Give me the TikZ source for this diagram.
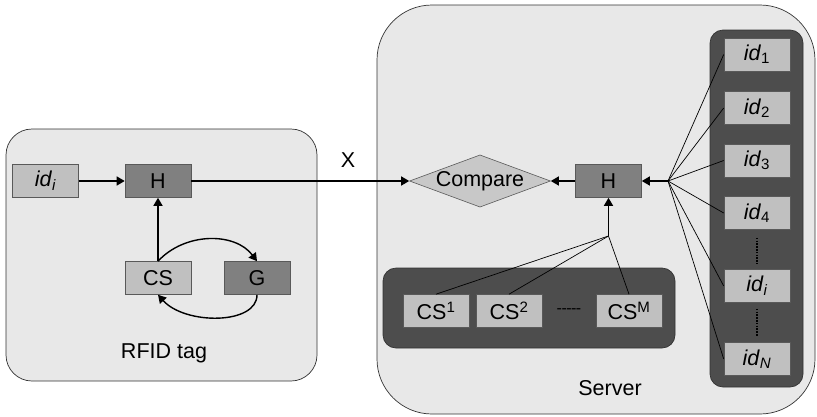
\documentclass[tikz,border=0pt]{standalone}
\usepackage{fontspec}
\setmainfont{Liberation Sans}
\usetikzlibrary{shapes.geometric,arrows.meta}
\definecolor{bgpanel}{HTML}{E8E8E8}
\definecolor{lightbox}{HTML}{C0C0C0}
\definecolor{darkbox}{HTML}{808080}
\definecolor{groupfill}{HTML}{4D4D4D}
\definecolor{cmpfill}{HTML}{C8C8C8}
\tikzset{
  panel/.style={draw=black!80, line width=0.7pt, fill=bgpanel, rounded corners=26pt, inner sep=0},
  group/.style={draw=black!80, line width=0.7pt, fill=groupfill, rounded corners=13pt, inner sep=0},
  lbox/.style={draw=black!65, line width=0.6pt, fill=lightbox, minimum width=66pt, minimum height=33pt, inner sep=0},
  dbox/.style={draw=black!65, line width=0.6pt, fill=darkbox, minimum width=66pt, minimum height=33pt, inner sep=0},
  arr/.style={line width=1.4pt, -{Triangle[length=8pt,width=9pt]}},
  thin/.style={line width=0.7pt},
  dotline/.style={line width=1.2pt, dash pattern=on 1.6pt off 1.2pt}
}
\begin{document}
\begin{tikzpicture}[x=1pt,y=-1pt, every node/.style={font=\fontsize{21.5}{25}\selectfont}]
\useasboundingbox (0,0) rectangle (817,416);
% panels
\node[panel, minimum width=311pt, minimum height=252pt] (tag) at (161.5,255) {};
\node[panel, rounded corners=55pt, minimum width=438pt, minimum height=409pt] (server) at (596,209.5) {};
\node[group, minimum width=93pt, minimum height=357pt] (idcol) at (756.5,208.5) {};
\node[group, minimum width=292pt, minimum height=80pt] (csgrp) at (529,308) {};
% tag nodes
\node[lbox] (idi) at (45.5,181) {\textit{id}\textsubscript{\textit{i}}};
\node[dbox] (H1) at (158,181) {H};
\node[lbox] (CS) at (158,278) {CS};
\node[dbox] (G) at (257,278) {G};
\node (tagl) at (164,353) {RFID tag};
% server nodes
\node[diamond, draw=black!65, line width=0.6pt, fill=cmpfill, minimum width=140pt, minimum height=52pt, aspect=2.7, inner sep=0] (cmp) at (480,181) {Compare};
\node[dbox] (H2) at (608.5,181) {H};
\node[lbox] (id1) at (757,54.5) {\textit{id}\textsubscript{1}};
\node[lbox] (id2) at (757,108) {\textit{id}\textsubscript{2}};
\node[lbox] (id3) at (757,160.5) {\textit{id}\textsubscript{3}};
\node[lbox] (id4) at (757,213) {\textit{id}\textsubscript{4}};
\node[lbox] (idI) at (757,286) {\textit{id}\textsubscript{\textit{i}}};
\node[lbox] (idN) at (757,359) {\textit{id}\textsubscript{\textit{N}}};
\node[lbox] (cs1) at (436,311) {CS\textsuperscript{1}};
\node[lbox] (cs2) at (509,311) {CS\textsuperscript{2}};
\node[lbox] (csM) at (629,311) {CS\textsuperscript{M}};
\node[font=\fontsize{16}{20}\selectfont] (dots) at (569,311) {{-}\kern-0.5pt{-}\kern-0.5pt{-}\kern-0.5pt{-}\kern-0.5pt{-}};
\node (serverl) at (610,388) {Server};
\node (X) at (348,160) {X};
\coordinate (fanid) at (668,181);
\coordinate (fancs) at (608.5,236);
% tag connectors
\draw[arr] (idi) -- (H1);
\draw[arr] (CS) -- (H1);
\draw[arr] (CS.north) .. controls (185,232) and (235,232) .. (G.north);
\draw[arr] (G.south) .. controls (257,325) and (185,325) .. (CS.south);
\draw[arr] (H1) -- (cmp);
% server connectors
\draw[arr] (H2) -- (cmp);
\draw[arr] (fanid) -- (H2);
\foreach \n in {id1,id2,id3,id4,idI,idN} \draw[thin] (fanid) -- (\n.west);
\draw[arr] (fancs) -- (H2);
\foreach \n in {cs1,cs2,csM} \draw[thin] (fancs) -- (\n.north);
\draw[dotline] ([yshift=-8pt]id4.south) -- ([yshift=5pt]idI.north);
\draw[dotline] ([yshift=-6pt]idI.south) -- ([yshift=6pt]idN.north);
\end{tikzpicture}
\end{document}
